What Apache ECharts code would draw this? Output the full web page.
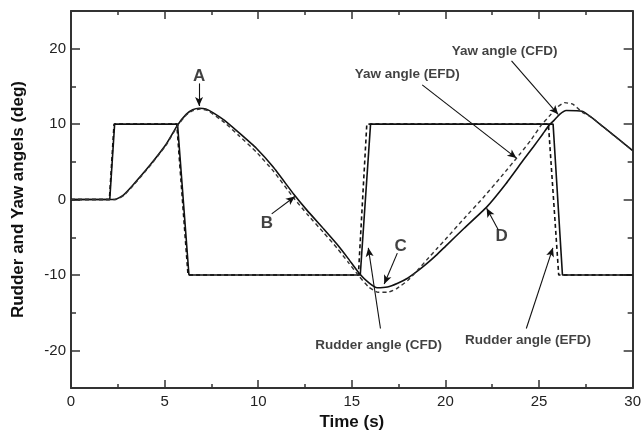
<!DOCTYPE html>
<html>
<head>
<meta charset="utf-8">
<script src="https://cdn.jsdelivr.net/npm/echarts@6/dist/echarts.min.js"></script>
<style>
  html, body { margin: 0; padding: 0; background: #fff; }
  #chart { width: 644px; height: 436px; }
</style>
</head>
<body>
<div id="chart"></div>
<script>
// Rudder angle time histories (deg)
const rudderCfdTime  = [0, 2.07, 2.33, 5.69, 6.30, 15.45, 16.00, 25.75, 26.25, 30];
const rudderCfdAngle = [0, 0, 10, 10, -10, -10, 10, 10, -10, -10];
const rudderEfdTime  = [0, 2.05, 2.30, 5.65, 6.25, 15.35, 15.80, 25.50, 26.05, 30];
const rudderEfdAngle = [0, 0, 10, 10, -10, -10, 10, 10, -10, -10];

// Yaw angle time histories (deg)
const yawCfdTime  = [0, 2.35, 2.8, 3.3, 4.2, 5.1, 5.7, 6.15, 6.5, 6.85, 7.2, 7.6, 8.2, 9.0, 9.9, 10.8, 11.9, 12.6, 13.5, 14.2, 14.8, 15.4, 15.9, 16.35, 16.9, 17.45, 18.0, 18.5, 19.0, 19.5, 20.0, 21.0, 22.2, 23.2, 24.15, 24.7, 25.2, 25.55, 25.8, 26.1, 26.45, 27.3, 27.8, 28.4, 29.2, 30];
const yawCfdAngle = [0, 0, 0.6, 1.9, 4.5, 7.4, 9.9, 11.3, 11.9, 12.1, 12.0, 11.5, 10.5, 8.8, 6.8, 4.3, 0.7, -1.4, -3.9, -5.9, -7.8, -9.8, -11.0, -11.7, -11.6, -11.1, -10.4, -9.5, -8.5, -7.4, -6.2, -3.8, -1.0, 2.0, 5.2, 7.0, 8.7, 9.9, 10.5, 11.3, 11.8, 11.7, 10.9, 9.7, 8.1, 6.5];
const yawEfdTime  = [0, 2.35, 2.8, 3.3, 4.2, 5.1, 5.7, 6.15, 6.5, 6.9, 7.3, 8.2, 9.0, 9.9, 10.8, 11.9, 12.6, 13.5, 14.2, 14.8, 15.4, 15.9, 16.4, 16.9, 17.4, 18.0, 18.5, 19.0, 19.55, 20.1, 21.0, 22.0, 23.0, 24.0, 24.6, 25.1, 25.6, 26.0, 26.35, 26.8, 27.3, 27.8, 28.4, 29.2, 30];
const yawEfdAngle = [0, 0, 0.5, 1.8, 4.4, 7.3, 9.8, 11.2, 11.8, 12.0, 11.8, 10.2, 8.4, 6.3, 3.8, 0.2, -1.9, -4.4, -6.4, -8.3, -10.2, -11.6, -12.3, -12.3, -11.8, -10.7, -9.4, -8.0, -6.5, -5.0, -2.5, 0.2, 3.1, 6.1, 8.0, 9.8, 11.2, 12.3, 12.85, 12.65, 11.6, 10.9, 9.7, 8.1, 6.5];

// Axis ticks
const timeTicks  = [0, 5, 10, 15, 20, 25, 30];
const angleTicks = [-20, -10, 0, 10, 20];

// Callout texts and their anchors / arrows (in time, angle units)
const calloutText  = ['A', 'B', 'C', 'D', 'Yaw angle (EFD)', 'Yaw angle (CFD)', 'Rudder angle (CFD)', 'Rudder angle (EFD)'];
const calloutTime  = [6.84, 10.46, 17.61, 23.0, 17.96, 23.16, 16.43, 24.41];
const calloutAngle = [16.4, -3.2, -6.2, -4.9, 16.6, 19.6, -19.3, -18.7];
const arrowFromTime  = [6.84, 10.72, 17.43, 22.82, 18.76, 23.53, 16.53, 24.32];
const arrowFromAngle = [15.4, -1.9, -7.1, -4.0, 15.2, 18.4, -17.1, -17.1];
const arrowToTime    = [6.84, 11.96, 16.73, 22.2, 23.79, 26.02, 15.88, 25.74];
const arrowToAngle   = [12.4, 0.4, -11.2, -1.16, 5.5, 11.3, -6.4, -6.4];

const zip = (xs, ys) => xs.map((x, i) => [x, ys[i]]);
const FONT = '"Liberation Sans", Arial, Helvetica, sans-serif';
const AXIS_COLOR = '#333';
const INK = '#111';

const frameLine = { show: true, onZero: false, lineStyle: { color: AXIS_COLOR, width: 2 } };
const tickStyle = { color: AXIS_COLOR, width: 1.5 };

function timeAxis(position, withLabels) {
  return {
    type: 'value', position: position, min: 0, max: 30, interval: 5,
    axisLine: frameLine,
    axisTick: { show: true, inside: true, length: 8, lineStyle: tickStyle },
    minorTick: { show: true, splitNumber: 2, length: 4, lineStyle: tickStyle },
    axisLabel: withLabels ? {
      show: true, margin: 6, color: '#222', fontSize: 15, fontFamily: FONT,
      formatter: v => timeTicks.includes(v) ? String(v) : ''
    } : { show: false },
    splitLine: { show: false },
    name: withLabels ? 'Time (s)' : '',
    nameLocation: 'middle', nameGap: 22,
    nameTextStyle: { fontSize: 17, fontWeight: 'bold', color: INK, fontFamily: FONT }
  };
}

function angleMinorAxis(position) {
  return {
    type: 'value', position: position, min: -25, max: 25, interval: 5,
    axisLine: frameLine,
    axisTick: { show: true, inside: true, length: 5, lineStyle: tickStyle },
    axisLabel: { show: false },
    splitLine: { show: false }
  };
}

function angleMajorAxis(position, withLabels) {
  return {
    type: 'value', position: position, min: -25, max: 25, interval: 5,
    axisLine: { show: false, onZero: false },
    axisTick: { show: true, inside: true, length: 9, lineStyle: tickStyle, customValues: angleTicks },
    axisLabel: withLabels ? {
      show: true, margin: 5, color: '#222', fontSize: 15, fontFamily: FONT,
      customValues: angleTicks
    } : { show: false },
    splitLine: { show: false },
    name: withLabels ? 'Rudder and Yaw angels (deg)' : '',
    nameLocation: 'middle', nameGap: 44, nameRotate: 90,
    nameTextStyle: { fontSize: 17, fontWeight: 'bold', color: INK, fontFamily: FONT }
  };
}

const chart = echarts.init(document.getElementById('chart'), null, { renderer: 'canvas' });

const arrows = calloutText.map((_, i) => [
  { coord: [arrowFromTime[i], arrowFromAngle[i]], symbol: 'none' },
  { coord: [arrowToTime[i], arrowToAngle[i]], symbol: 'arrow', symbolSize: [6, 9] }
]);

const calloutData = calloutText.map((t, i) => ({
  value: [calloutTime[i], calloutAngle[i]],
  name: t,
  label: { fontSize: t.length === 1 ? 17 : 13.5 }
}));

chart.setOption({
  animation: false,
  backgroundColor: '#fff',
  grid: { left: 71, right: 7, top: 11, bottom: 38, containLabel: false },
  xAxis: [timeAxis('bottom', true), timeAxis('top', false)],
  yAxis: [
    angleMinorAxis('left'), angleMajorAxis('left', true),
    angleMinorAxis('right'), angleMajorAxis('right', false)
  ],
  series: [
    {
      name: 'Rudder angle (CFD)', type: 'line', data: zip(rudderCfdTime, rudderCfdAngle),
      showSymbol: false, lineStyle: { color: INK, width: 1.6 }, z: 3
    },
    {
      name: 'Rudder angle (EFD)', type: 'line', data: zip(rudderEfdTime, rudderEfdAngle),
      showSymbol: false, lineStyle: { color: INK, width: 1.6, type: [4, 3] }, z: 4
    },
    {
      name: 'Yaw angle (CFD)', type: 'line', data: zip(yawCfdTime, yawCfdAngle),
      showSymbol: false, smooth: 0.15,
      lineStyle: { color: INK, width: 1.6 }, z: 3
    },
    {
      name: 'Yaw angle (EFD)', type: 'line', data: zip(yawEfdTime, yawEfdAngle),
      showSymbol: false, smooth: 0.15,
      lineStyle: { color: '#333', width: 1.4, type: [4, 3] }, z: 4,
      markLine: {
        silent: true, animation: false,
        symbol: ['none', 'arrow'], symbolSize: 9,
        label: { show: false },
        lineStyle: { color: INK, width: 1.1, type: 'solid' },
        itemStyle: { color: INK },
        emphasis: { disabled: true },
        data: arrows
      }
    },
    {
      name: 'callouts', type: 'scatter', data: calloutData,
      symbolSize: 0, itemStyle: { color: 'transparent' }, silent: true, z: 6,
      label: {
        show: true, position: 'inside', formatter: p => p.name,
        color: INK, fontWeight: 'bold', fontFamily: FONT
      }
    }
  ]
});
</script>
</body>
</html>
